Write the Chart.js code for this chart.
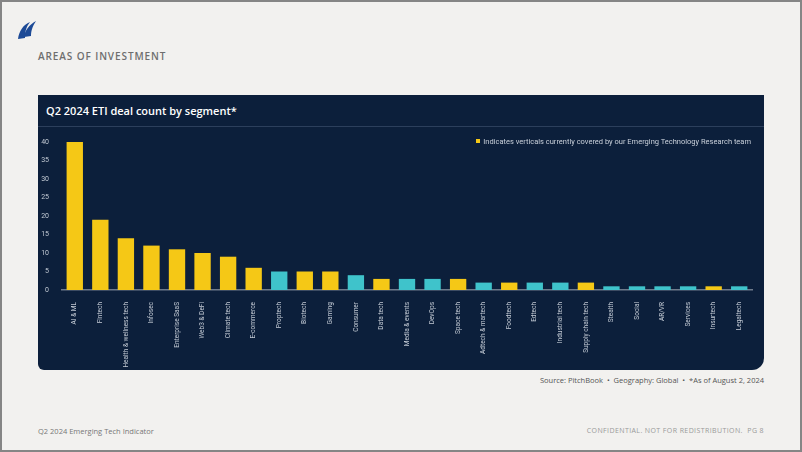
<!DOCTYPE html>
<html>
<head>
<meta charset="utf-8">
<script src="https://cdn.jsdelivr.net/npm/chart.js@4.4.1/dist/chart.umd.min.js"></script>
<style>
  html, body { margin: 0; padding: 0; }
  body {
    width: 802px; height: 452px; position: relative; overflow: hidden;
    background: #f2f1ef; box-sizing: border-box; border: 2px solid #858585;
    font-family: "Open Sans", sans-serif;
  }
  .abs { position: absolute; }
  #section { left: 36px; top: 47px; font-size: 10px; font-weight: 600; letter-spacing: 0.9px; color: #6e6e6e; }
  #panel { left: 36px; top: 93px; width: 726px; height: 275px; background: #0c1f3b;
    border-radius: 0 0 12px 6px; }
  #title { left: 8px; top: 8px; color: #fff; font-weight: 600; font-size: 11px; }
  #sep { left: 0; top: 31px; width: 726px; height: 1px; background: #2c3f5c; }
  #legend { right: 13px; top: 42px; color: #c9d0da; font-size: 7.5px; font-family: Roboto, sans-serif; }
  #legend i { display: inline-block; width: 4px; height: 4px; background: #f5c816; margin-right: 3px; vertical-align: 1px; }
  #wrap { left: 0; top: 33px; width: 726px; height: 242px; }
  #source { right: 36px; top: 373px; font-size: 7.5px; color: #555; }
  #foot-l { left: 36px; top: 424px; font-size: 7.5px; color: #777; }
  #foot-r { right: 36px; top: 424px; font-size: 7px; color: #999; letter-spacing: 0.4px; }
</style>
</head>
<body>
<svg class="abs" style="left:14px;top:17px" width="22" height="22" viewBox="0 0 22 22">
  <path d="M2 20 C3 12 7 6 14 3 C10 8 9 13 9 19 Z" fill="#1d4a96"/>
  <path d="M8 18 C9 11 13 6 20 2 C16 8 15 13 15 17 Z" fill="#1d4a96"/>
</svg>
<div id="section" class="abs">AREAS OF INVESTMENT</div>
<div id="panel" class="abs">
  <div id="title" class="abs">Q2 2024 ETI deal count by segment*</div>
  <div id="sep" class="abs"></div>
  <div id="wrap" class="abs"><canvas id="chart"></canvas></div>
  <div id="legend" class="abs"><i></i>Indicates verticals currently covered by our Emerging Technology Research team</div>
</div>
<div id="source" class="abs">Source: PitchBook &nbsp;•&nbsp; Geography: Global &nbsp;•&nbsp; *As of August 2, 2024</div>
<div id="foot-l" class="abs">Q2 2024 Emerging Tech Indicator</div>
<div id="foot-r" class="abs">CONFIDENTIAL. NOT FOR REDISTRIBUTION. &nbsp;PG 8</div>

<script>
const segments = ['AI & ML', 'Fintech', 'Health & wellness tech', 'Infosec', 'Enterprise SaaS', 'Web3 & DeFi',
  'Climate tech', 'E-commerce', 'Proptech', 'Biotech', 'Gaming', 'Consumer', 'Data tech', 'Media & events',
  'DevOps', 'Space tech', 'Adtech & martech', 'Foodtech', 'Edtech', 'Industrial tech', 'Supply chain tech',
  'Stealth', 'Social', 'AR/VR', 'Services', 'Insurtech', 'Legaltech'];
const dealCount = [40, 19, 14, 12, 11, 10, 9, 6, 5, 5, 5, 4, 3, 3, 3, 3, 2, 2, 2, 2, 2, 1, 1, 1, 1, 1, 1];
// true = vertical covered by the research team (yellow)
const covered = [true, true, true, true, true, true, true, true, false, true, true, false, true, false,
  false, true, false, true, false, false, true, false, false, false, false, true, false];
const yTicks = [0, 5, 10, 15, 20, 25, 30, 35, 40];

const YELLOW = '#f5c816';
const TEAL = '#3fc3cb';

new Chart(document.getElementById('chart'), {
  type: 'bar',
  data: {
    labels: segments,
    datasets: [{
      data: dealCount,
      backgroundColor: covered.map(c => c ? YELLOW : TEAL),
      barPercentage: 0.64,
      categoryPercentage: 1
    }]
  },
  options: {
    responsive: true,
    maintainAspectRatio: false,
    animation: false,
    layout: { padding: { top: 14, right: 12, left: 0, bottom: 0 } },
    plugins: { legend: { display: false }, tooltip: { enabled: false } },
    scales: {
      x: {
        grid: { display: false },
        border: { color: '#6f7b8c', width: 1.5 },
        ticks: { color: '#c3cad4', font: { size: 6.5, family: 'Roboto, sans-serif' },
          minRotation: 90, maxRotation: 90, autoSkip: false, padding: 4 },
        afterFit: s => { s.height = 80; }
      },
      y: {
        min: 0, max: 40,
        afterBuildTicks: s => { s.ticks = yTicks.map(v => ({ value: v })); },
        grid: { display: false },
        border: { display: false },
        ticks: { color: '#c3cad4', font: { size: 7, family: 'Roboto, sans-serif' }, padding: 5 },
        afterFit: s => { s.width = 24; }
      }
    }
  }
});
</script>
</body>
</html>
